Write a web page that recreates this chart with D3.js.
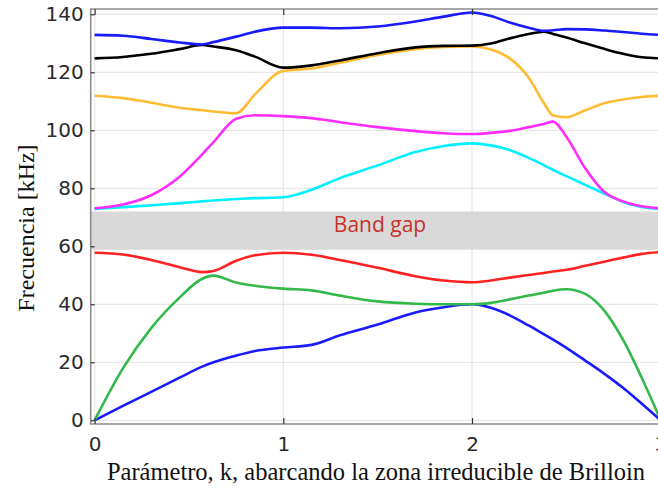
<!DOCTYPE html>
<html>
<head>
<meta charset="utf-8">
<script src="https://cdn.jsdelivr.net/npm/d3@7"></script>
<style>
  body { margin: 0; background: #fff; }
  svg { display: block; }
</style>
</head>
<body>
<svg width="658" height="489"></svg>
<script>
(function (d3) {
  'use strict';

  // wave number samples along the irreducible zone path
  const kValues = [0, 0.15, 0.3, 0.45, 0.57, 0.63, 0.75, 0.85, 1.0, 1.15, 1.3, 1.5, 1.7,
                   1.85, 2.0, 2.1, 2.2, 2.3, 2.38, 2.43, 2.5, 2.6, 2.7, 2.8, 2.9, 3.0];

  // frequencies in kHz, one array per band (lowest first)
  const band1 = [0, 5.0, 9.8, 14.7, 18.5, 20.0, 22.3, 23.9, 25.1, 26.0, 29.3, 33.0, 37.2,
                 39.0, 40.0, 38.8, 36.2, 32.7, 29.7, 27.8, 25.0, 20.6, 16.1, 11.2, 5.7, 0];
  const band2 = [0, 17.9, 31.8, 42.3, 48.8, 49.9, 47.5, 46.4, 45.4, 44.8, 43.0, 41.0, 40.2,
                 40.0, 40.0, 40.5, 41.7, 43.0, 44.0, 44.7, 45.2, 43.6, 37.9, 27.8, 14.6, 0];
  const band3 = [57.8, 57.2, 55.3, 52.8, 51.1, 51.5, 55.0, 56.9, 57.8, 57.1, 55.3, 52.6, 49.7,
                 48.2, 47.6, 48.2, 49.2, 50.1, 50.8, 51.3, 51.9, 53.3, 54.7, 56.1, 57.4, 58.0];
  const band4 = [72.9, 73.5, 74.1, 74.9, 75.5, 75.8, 76.3, 76.6, 76.9, 79.5, 83.5, 87.9, 92.5,
                 94.6, 95.5, 94.8, 93.2, 90.5, 88.0, 86.3, 84.2, 81.2, 78.2, 75.3, 73.6, 72.9];
  const band5 = [73.1, 74.4, 77.6, 84.0, 91.7, 95.9, 104.0, 105.2, 104.9, 104.2, 102.8, 101.1, 99.7,
                 99.0, 98.7, 99.1, 99.8, 101.1, 102.2, 103.0, 97.8, 86.9, 78.8, 75.5, 73.8, 73.1];
  const band6 = [111.9, 111.1, 109.5, 107.8, 106.9, 106.5, 105.9, 112.4, 120.5, 121.3, 123.3, 126.0, 128.0,
                 128.7, 128.9, 127.9, 124.8, 118.2, 109.5, 105.1, 104.5, 106.9, 109.3, 110.6, 111.5, 111.9];
  const band7 = [124.8, 125.3, 126.4, 128.0, 129.4, 128.9, 127.6, 125.4, 121.6, 122.4, 124.1, 126.6, 128.6,
                 129.1, 129.2, 129.9, 131.7, 133.2, 134.0, 133.2, 132.0, 130.0, 128.1, 126.4, 125.2, 124.8];
  const band8 = [132.9, 132.6, 131.5, 130.3, 129.6, 130.4, 132.3, 134.0, 135.4, 135.4, 135.2, 135.8, 137.5,
                 139.2, 140.6, 139.4, 137.2, 135.4, 134.3, 134.5, 134.9, 134.8, 134.4, 133.9, 133.3, 132.9];

  const bands = [band1, band2, band3, band4, band5, band6, band7, band8];
  const bandColors = ['#1a1aff', '#33b84a', '#ff2222', '#00f0ff', '#ff2cff', '#ffbb33', '#000000', '#1a1aff'];

  const gapRange = [58.8, 72.0];
  const gapLabel = 'Band gap';
  const xTicks = [0, 1, 2, 3];
  const yTicks = [0, 20, 40, 60, 80, 100, 120, 140];
  const xAxisLabel = 'Parámetro, k, abarcando la zona irreducible de Brilloin';
  const yAxisLabel = 'Frecuencia [kHz]';

  const svg = d3.select('svg');

  const frame = { left: 90.7, top: 9, right: 665, bottom: 424 };

  const xScale = d3.scaleLinear().domain([0, 3]).range([94.6, 660.7]);
  const yScale = d3.scaleLinear().domain([0, 140]).range([420.3, 14.3]);

  svg.append('defs').append('clipPath')
      .attr('id', 'plot-clip')
    .append('rect')
      .attr('x', frame.left)
      .attr('y', frame.top)
      .attr('width', frame.right - frame.left)
      .attr('height', frame.bottom - frame.top);

  // grid
  const grid = svg.append('g').attr('clip-path', 'url(#plot-clip)');
  grid.selectAll('.hgrid').data(yTicks)
    .enter().append('line')
      .attr('class', 'hgrid')
      .attr('x1', frame.left).attr('x2', frame.right)
      .attr('y1', d => yScale(d)).attr('y2', d => yScale(d))
      .attr('stroke', '#e6e6e6')
      .attr('stroke-width', 1.2);
  grid.selectAll('.vgrid').data(xTicks)
    .enter().append('line')
      .attr('class', 'vgrid')
      .attr('y1', frame.top).attr('y2', frame.bottom)
      .attr('x1', d => xScale(d)).attr('x2', d => xScale(d))
      .attr('stroke', '#e6e6e6')
      .attr('stroke-width', 1.2);

  // band gap strip
  grid.append('rect')
      .attr('x', frame.left)
      .attr('width', frame.right - frame.left)
      .attr('y', yScale(gapRange[1]))
      .attr('height', yScale(gapRange[0]) - yScale(gapRange[1]))
      .attr('fill', '#d9d9d9');

  grid.append('text')
      .attr('x', 380)
      .attr('y', 232)
      .attr('text-anchor', 'middle')
      .attr('font-family', '"Open Sans", sans-serif')
      .attr('font-size', 21)
      .attr('fill', '#c9302c')
      .text(gapLabel);

  // dispersion curves
  const line = d3.line()
    .x((d, i) => xScale(kValues[i]))
    .y(d => yScale(d))
    .curve(d3.curveMonotoneX);

  grid.selectAll('.band').data(bands)
    .enter().append('path')
      .attr('class', 'band')
      .attr('d', line)
      .attr('fill', 'none')
      .attr('stroke', (d, i) => bandColors[i])
      .attr('stroke-width', 2.6)
      .attr('stroke-linejoin', 'round');

  // frame
  svg.append('path')
      .attr('d', `M${frame.right},${frame.top}H${frame.left}V${frame.bottom}H${frame.right}`)
      .attr('fill', 'none')
      .attr('stroke', '#8c8c8c')
      .attr('stroke-width', 1.6);

  // axes
  const yAxis = d3.axisLeft(yScale)
    .tickValues(yTicks)
    .tickSize(-4)
    .tickPadding(7);
  const yAxisG = svg.append('g')
      .attr('transform', `translate(${frame.left},0)`)
      .call(yAxis);
  yAxisG.select('.domain').remove();

  const xAxis = d3.axisBottom(xScale)
    .tickValues(xTicks)
    .tickFormat(d3.format('d'))
    .tickSize(-6)
    .tickPadding(13);
  const xAxisG = svg.append('g')
      .attr('transform', `translate(0,${frame.bottom})`)
      .call(xAxis);
  xAxisG.select('.domain').remove();

  const xTopAxis = d3.axisTop(xScale)
    .tickValues(xTicks)
    .tickSize(-6)
    .tickFormat('');
  const xTopG = svg.append('g')
      .attr('transform', `translate(0,${frame.top})`)
      .call(xTopAxis);
  xTopG.select('.domain').remove();

  svg.selectAll('.tick line').attr('stroke', '#333').attr('stroke-width', 1.2);
  svg.selectAll('.tick text')
      .attr('font-family', '"DejaVu Sans", sans-serif')
      .attr('font-size', 20)
      .attr('fill', '#2b2b2b');

  // axis titles
  svg.append('text')
      .attr('x', 376)
      .attr('y', 480)
      .attr('text-anchor', 'middle')
      .attr('font-family', '"Liberation Serif", "Times New Roman", serif')
      .attr('font-size', 24.5)
      .attr('fill', '#111')
      .text(xAxisLabel);

  svg.append('text')
      .attr('transform', 'translate(34,228) rotate(-90)')
      .attr('text-anchor', 'middle')
      .attr('font-family', '"Liberation Serif", "Times New Roman", serif')
      .attr('font-size', 24)
      .attr('fill', '#111')
      .text(yAxisLabel);

}(d3));
</script>
</body>
</html>
